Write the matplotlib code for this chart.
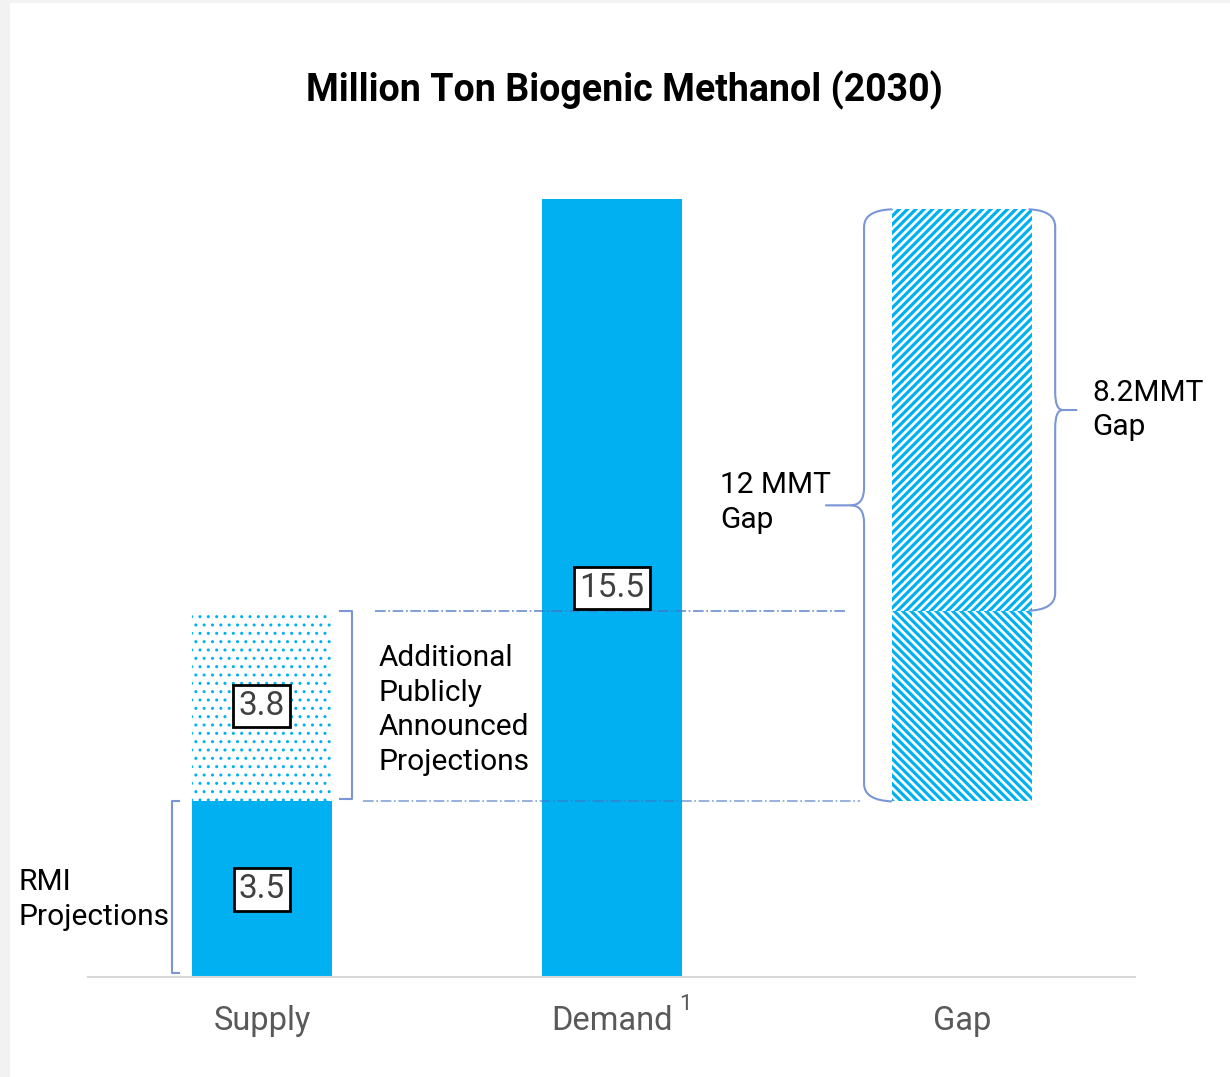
import matplotlib
matplotlib.use("Agg")
import matplotlib.pyplot as plt
from matplotlib.patches import Rectangle, PathPatch
from matplotlib.path import Path

plt.rcParams['font.family'] = ['Roboto', 'DejaVu Sans']

# ---- data ----
categories = ["Supply", "Demand", "Gap"]
rmi_supply = 3.5
announced_supply = 3.8
demand = 15.5
gap_total = 11.8          # 12 MMT gap (drawn from RMI supply)
title = "Million Ton Biogenic Methanol (2030)"

BLUE = '#00B0F0'
BRACE = '#7A96D6'
DASH = '#4472C4'

fig = plt.figure(figsize=(12.3, 10.77), dpi=100, facecolor='#F2F2F2')
fig.patches.append(Rectangle((10/1230, 0), 1 - 10/1230, 1 - 3/1077,
                             transform=fig.transFigure, facecolor='white',
                             edgecolor='none', zorder=-10))

ax = fig.add_axes([88/1230, 100/1077, (1135-88)/1230, 853/1077])
ax.set_facecolor('none')
ax.set_xlim(-0.497, 2.494)
ax.set_ylim(0, 17)

x = [0, 1, 2]
w = 0.4

# Supply
ax.bar(x[0], rmi_supply, w, color=BLUE, edgecolor='none', zorder=2)
with plt.rc_context({'hatch.linewidth': 1.0, 'hatch.color': BLUE}):
    ax.bar(x[0], announced_supply, w, bottom=rmi_supply, facecolor='white',
           edgecolor=BLUE, linewidth=0, hatch='..', zorder=2)
# Demand
ax.bar(x[1], demand, w, color=BLUE, edgecolor='none', zorder=2)
# Gap
top_gap = rmi_supply + gap_total
mid_gap = rmi_supply + announced_supply
with plt.rc_context({'hatch.linewidth': 2.3, 'hatch.color': BLUE}):
    ax.bar(x[2], top_gap - mid_gap, w, bottom=mid_gap, facecolor='white',
           edgecolor=BLUE, linewidth=0, hatch='////', zorder=2)
    ax.bar(x[2], mid_gap - rmi_supply, w, bottom=rmi_supply, facecolor='white',
           edgecolor=BLUE, linewidth=0, hatch='\\\\\\\\', zorder=2)

# value boxes
box = dict(boxstyle='square,pad=0.16', facecolor='white', edgecolor='black', linewidth=2)
lab_kw = dict(ha='center', va='center', fontsize=24, color='#404040', bbox=box, zorder=5)
ax.text(x[0], rmi_supply / 2, f"{rmi_supply:g}", **lab_kw)
ax.text(x[0], rmi_supply + announced_supply / 2, f"{announced_supply:g}", **lab_kw)
ax.text(x[1], 7.75, f"{demand:g}", **lab_kw)

# dash-dot guide lines
ax.plot([0.323, 1.666], [mid_gap, mid_gap], color=DASH, lw=1.2, ls='-.', alpha=0.8, zorder=3)
ax.plot([0.289, 1.709], [rmi_supply, rmi_supply], color=DASH, lw=1.2, ls='-.', alpha=0.65, zorder=3)

# brackets
def square_bracket(xv, xt, y0, y1):
    ax.plot([xt, xv, xv, xt], [y1, y1, y0, y0], color=BRACE, lw=1.5,
            solid_joinstyle='round', zorder=3, clip_on=False)

square_bracket(-0.257, -0.238, 0.08, rmi_supply)
square_bracket(0.257, 0.222, rmi_supply + 0.05, mid_gap)

def curly(xv, xt, xp, y0, y1, ry=0.35):
    ym = (y0 + y1) / 2
    dx = (xv - xp) * 0.35
    verts = [(xt, y1), (xv, y1 - 0.02), (xv, y1 - ry),
             (xv, ym + ry), (xv, ym), (xv - dx, ym),
             (xp, ym)]
    codes = [Path.MOVETO, Path.CURVE3, Path.CURVE3,
             Path.LINETO, Path.CURVE3, Path.CURVE3, Path.LINETO]
    verts2 = [(xt, y0), (xv, y0 + 0.02), (xv, y0 + ry),
              (xv, ym - ry), (xv, ym), (xv - dx, ym)]
    codes2 = [Path.MOVETO, Path.CURVE3, Path.CURVE3,
              Path.LINETO, Path.CURVE3, Path.CURVE3]
    for v, c in ((verts, codes), (verts2, codes2)):
        ax.add_patch(PathPatch(Path(v, c), facecolor='none', edgecolor=BRACE,
                               lw=1.5, zorder=3, clip_on=False))

curly(1.72, 1.80, 1.609, rmi_supply, top_gap)
curly(2.266, 2.19, 2.329, mid_gap, top_gap)

# annotation texts
ann = dict(fontsize=21.5, color='black', va='center', ha='left', linespacing=1.31)
ax.text(-0.695, 1.55, "RMI\nProjections", **ann)
ax.text(0.334, 5.32, "Additional\nPublicly\nAnnounced\nProjections", **ann)
ax.text(1.309, 9.46, "12 MMT\nGap", **ann)
ax.text(2.371, 11.3, "8.2MMT\nGap", **ann)

# axes styling
for s in ['left', 'right', 'top']:
    ax.spines[s].set_visible(False)
ax.spines['bottom'].set_color('#D9D9D9')
ax.spines['bottom'].set_linewidth(1.5)
ax.set_yticks([])
ax.set_xticks(x)
ax.set_xticklabels(categories, fontsize=23.5, color='#595959')
ax.tick_params(axis='x', length=0, pad=20)
ax.text(1.209, -0.55, "1", fontsize=16, color='#595959', ha='center', va='center')

fig.text(624/1230, 1 - 90/1077, title, ha='center', va='center',
         fontsize=27, fontweight='bold', color='black')

fig.savefig('out.png', dpi=100, facecolor=fig.get_facecolor())
